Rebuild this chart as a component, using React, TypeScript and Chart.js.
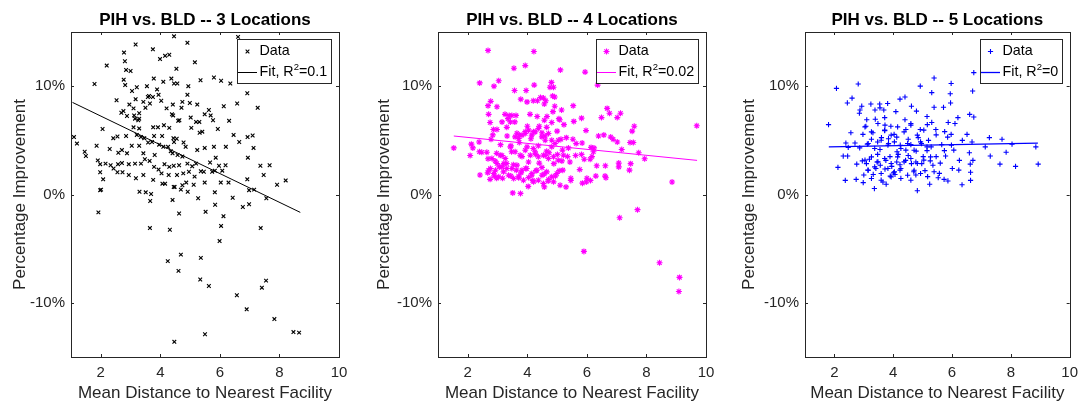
import React, { useEffect, useRef } from 'react';
import { Chart, registerables } from 'chart.js';

Chart.register(...registerables);

// ---------- data ----------
const xTickValues = [2, 4, 6, 8, 10];
const yTickValues = [-10, 0, 10];
const xLimits = [1, 10];
const yLimits = [-15, 15];

const panelTitles = ['PIH vs. BLD -- 3 Locations', 'PIH vs. BLD -- 4 Locations', 'PIH vs. BLD -- 5 Locations'];
const xAxisLabel = 'Mean Distance to Nearest Facility';
const yAxisLabel = 'Percentage Improvement';
const dataLabel = 'Data';
const fitLabels = ['Fit, R²=0.1', 'Fit, R²=0.02', 'Fit, R²=0'];

// [mean distance, percentage improvement]
const loc3Points: [number, number][] = [
  [4.46, 14.6], [6.61, 14.55], [4.91, 14.0], [3.17, 13.85], [2.78, 13.1], [3.75, 13.4], [2.81, 12.3], [4.3, 12.9],
  [4.16, 12.8], [3.99, 12.5], [5.16, 12.2], [2.2, 11.9], [2.85, 11.5], [3.0, 11.4], [4.54, 11.6], [2.77, 10.6],
  [3.78, 10.7], [4.37, 10.7], [5.35, 10.55], [5.8, 10.8], [6.04, 10.5], [6.35, 10.25], [1.79, 10.2], [2.82, 10.1],
  [3.21, 9.9], [3.55, 10.0], [4.1, 10.4], [4.46, 10.25], [4.57, 10.25], [4.94, 10.0], [3.05, 9.55], [3.89, 9.7],
  [3.62, 9.1], [3.58, 9.0], [4.91, 9.2], [6.92, 9.35], [2.53, 8.7], [3.17, 8.8], [3.94, 9.2], [4.03, 8.65],
  [3.75, 9.0], [3.43, 8.55], [3.65, 8.4], [2.96, 8.3], [4.42, 8.3], [4.74, 8.55], [4.99, 8.45], [5.24, 8.3],
  [6.58, 8.4], [7.27, 8.0], [6.13, 8.15], [3.1, 7.95], [3.5, 8.0], [4.21, 7.95], [4.71, 8.0], [2.69, 7.55],
  [2.76, 7.7], [2.88, 7.25], [3.12, 7.3], [3.29, 7.5], [4.39, 7.4], [4.43, 7.3], [5.49, 7.4], [5.63, 7.8],
  [5.69, 7.3], [5.77, 6.85], [3.15, 7.0], [3.26, 6.85], [3.29, 7.0], [3.76, 6.2], [3.92, 6.2], [4.12, 6.4],
  [4.3, 6.15], [4.6, 6.8], [4.64, 6.85], [5.02, 7.1], [5.04, 6.15], [5.2, 6.7], [5.31, 6.7], [6.31, 6.8],
  [2.06, 6.05], [3.1, 6.2], [3.29, 6.1], [5.93, 6.05], [2.56, 5.35], [2.42, 5.2], [2.85, 5.4], [3.21, 5.5],
  [3.35, 5.3], [3.46, 5.2], [3.79, 5.4], [4.06, 5.4], [4.44, 5.2], [4.55, 5.15], [5.32, 5.7], [5.41, 5.8],
  [6.46, 5.5], [6.93, 5.3], [7.1, 5.45], [1.1, 5.3], [1.2, 4.7], [1.86, 4.5], [1.46, 3.95], [1.5, 3.55],
  [2.3, 4.2], [2.71, 4.1], [3.04, 4.5], [3.29, 4.5], [3.59, 4.8], [3.72, 4.85], [3.96, 4.6], [4.1, 4.4],
  [4.26, 4.4], [4.46, 4.85], [4.78, 4.8], [4.85, 4.4], [5.49, 4.3], [5.8, 4.4], [6.2, 4.4], [6.65, 4.85],
  [7.13, 4.3], [2.59, 3.85], [2.88, 3.8], [3.43, 3.8], [3.81, 3.65], [4.35, 4.0], [4.41, 3.8], [4.58, 3.65],
  [4.74, 3.5], [5.24, 4.1], [5.86, 3.4], [6.94, 3.4], [1.9, 3.15], [1.98, 2.8], [2.16, 2.85], [2.33, 2.7],
  [2.58, 2.8], [2.71, 2.9], [2.94, 2.8], [3.15, 2.85], [3.35, 2.85], [3.48, 3.25], [3.64, 3.1], [3.79, 2.55],
  [3.94, 2.3], [4.14, 2.8], [4.3, 2.55], [4.45, 2.65], [4.63, 2.7], [4.91, 2.85], [5.07, 2.6], [5.2, 2.85],
  [5.36, 2.15], [5.67, 2.95], [5.97, 2.65], [6.19, 2.7], [6.08, 2.2], [5.74, 2.1], [7.36, 2.65], [7.67, 2.7],
  [7.47, 1.8], [2.43, 2.4], [2.56, 2.05], [2.73, 2.05], [2.94, 1.8], [3.18, 1.5], [3.43, 1.8], [3.76, 1.35],
  [4.04, 1.95], [4.28, 1.8], [4.56, 1.8], [4.77, 1.95], [4.96, 2.1], [5.15, 1.65], [5.46, 2.1], [5.83, 2.2],
  [6.03, 1.1], [6.29, 1.1], [6.92, 1.4], [1.98, 2.05], [2.08, 1.4], [1.98, 0.4], [2.01, 0.45], [4.07, 1.0],
  [4.16, 1.0], [4.45, 0.7], [4.48, 0.7], [4.74, 0.85], [4.87, 1.1], [4.69, 0.45], [4.92, 0.25], [5.12, 0.9],
  [5.49, 1.1], [6.98, 0.4], [7.15, 0.45], [7.92, 0.9], [8.21, 1.3], [3.3, 0.25], [3.51, 0.2], [3.69, 0.05],
  [5.83, 0.2], [7.56, -0.35], [3.66, -0.6], [4.41, -0.5], [5.27, -0.35], [6.43, -0.3], [5.52, -1.6], [5.84, -0.95],
  [4.63, -1.75], [6.12, -2.0], [6.77, -1.15], [6.98, -0.9], [1.92, -1.65], [3.65, -3.1], [4.32, -3.25], [6.04, -2.9],
  [7.37, -3.1], [5.99, -4.3], [4.25, -6.15], [4.69, -5.55], [5.36, -5.85], [4.61, -7.05], [5.34, -7.85], [5.63, -8.45],
  [7.41, -8.6], [7.55, -7.95], [6.57, -9.3], [6.9, -10.6], [7.83, -11.5], [8.47, -12.7], [8.66, -12.75], [5.5, -12.9],
  [4.47, -13.6],
];

const loc4Points: [number, number][] = [
  [2.68, 13.3], [4.22, 13.2], [3.93, 11.9], [3.55, 11.65], [5.11, 11.5], [5.94, 11.3], [2.4, 10.3], [3.04, 10.5],
  [2.88, 10.0], [3.96, 9.6], [3.57, 9.6], [4.23, 10.1], [4.81, 10.35], [4.76, 9.9], [4.88, 9.9], [6.36, 10.1],
  [3.78, 8.8], [3.99, 8.55], [4.2, 8.65], [4.34, 8.65], [4.44, 8.95], [4.54, 8.9], [4.62, 8.65], [4.85, 9.1],
  [4.92, 9.0], [2.77, 8.6], [2.68, 8.2], [2.98, 8.1], [4.57, 8.35], [4.92, 8.15], [5.54, 8.2], [5.15, 7.8],
  [4.86, 7.65], [6.68, 7.95], [6.76, 7.5], [7.13, 7.5], [7.02, 7.1], [2.7, 7.4], [3.25, 7.4], [3.39, 7.3],
  [3.62, 7.3], [4.09, 7.4], [3.35, 7.0], [3.48, 7.3], [4.33, 7.2], [4.57, 6.85], [4.66, 7.2], [4.82, 6.65],
  [5.06, 7.0], [5.09, 6.9], [5.56, 6.75], [5.82, 7.05], [6.49, 7.1], [2.75, 6.65], [3.15, 6.7], [3.58, 6.7],
  [4.0, 6.3], [4.4, 6.3], [4.65, 6.2], [5.23, 6.45], [5.97, 5.9], [7.59, 6.3], [9.69, 6.35], [2.86, 6.0],
  [2.98, 6.0], [3.31, 6.2], [3.93, 5.8], [3.65, 5.65], [4.21, 5.8], [4.49, 5.7], [5.0, 5.85], [7.52, 5.85],
  [2.84, 5.5], [3.32, 5.4], [3.73, 5.5], [4.12, 5.15], [4.6, 5.4], [5.13, 5.1], [5.31, 5.25], [5.53, 5.1],
  [6.39, 5.4], [6.57, 5.5], [6.8, 5.3], [6.88, 5.1], [7.02, 4.85], [7.45, 4.8], [7.56, 4.8], [2.78, 5.1],
  [2.38, 4.85], [2.12, 4.65], [2.17, 4.3], [1.53, 4.3], [2.39, 3.95], [2.47, 3.9], [2.08, 3.6], [2.64, 3.9],
  [3.1, 4.6], [3.45, 4.5], [3.73, 4.8], [3.99, 4.4], [4.2, 4.25], [4.37, 4.5], [4.65, 4.0], [4.82, 4.4],
  [5.18, 4.1], [5.38, 4.3], [5.64, 4.7], [5.84, 4.75], [6.14, 4.35], [6.24, 4.3], [7.17, 4.15], [7.74, 3.85],
  [7.94, 3.3], [6.22, 3.95], [5.82, 3.7], [5.62, 3.6], [2.97, 3.8], [3.15, 3.6], [3.47, 3.95], [3.82, 3.5],
  [4.28, 3.7], [4.6, 3.6], [4.73, 3.85], [5.01, 3.7], [5.35, 3.5], [5.91, 3.25], [6.11, 3.25], [6.17, 3.5],
  [7.07, 2.9], [7.47, 2.85], [2.68, 3.3], [2.92, 3.1], [3.21, 2.85], [3.53, 2.75], [4.04, 3.0], [4.4, 2.9],
  [4.89, 2.85], [5.16, 3.1], [5.43, 3.0], [6.33, 2.65], [6.62, 2.65], [7.07, 2.55], [2.76, 2.4], [3.06, 2.55],
  [3.31, 2.4], [3.63, 2.25], [3.94, 2.4], [4.29, 2.2], [4.49, 2.5], [5.07, 2.2], [5.19, 2.25], [5.76, 2.3],
  [7.43, 2.25], [2.41, 1.8], [2.67, 2.0], [2.89, 1.7], [3.17, 1.5], [3.45, 1.7], [3.79, 2.0], [4.15, 1.8],
  [4.57, 1.9], [4.94, 1.7], [5.46, 1.5], [6.0, 1.5], [6.3, 1.7], [6.61, 1.7], [6.64, 1.55], [2.75, 1.4],
  [2.97, 1.5], [3.71, 1.55], [4.18, 1.3], [4.7, 1.25], [5.46, 1.3], [5.98, 1.15], [5.85, 1.05], [6.12, 1.3],
  [8.86, 1.15], [4.03, 0.75], [4.57, 0.7], [5.1, 0.85], [5.3, 0.7], [3.51, 0.15], [3.77, 0.1], [7.7, -1.4],
  [7.1, -2.15], [5.9, -5.25], [8.44, -6.3], [9.11, -7.65], [9.09, -8.95],
  [3.43, 6.7], [3.59, 5.32], [3.71, 5.17], [3.82, 5.48], [3.93, 5.63], [4.04, 5.94], [4.15, 5.48], [4.26, 5.78],
  [4.37, 6.09], [4.49, 5.32], [4.6, 5.01], [4.71, 5.63], [4.82, 5.01], [4.93, 4.71], [5.04, 5.01], [3.43, 4.4],
  [3.59, 3.94], [3.76, 3.63], [3.93, 4.09], [4.1, 3.63], [4.26, 3.94], [4.37, 3.48], [4.54, 3.63], [4.71, 3.32],
  [4.88, 3.48], [5.04, 3.17], [5.21, 3.63], [2.81, 3.32], [2.98, 2.86], [3.15, 2.55], [3.31, 2.86], [3.48, 2.4],
  [3.65, 2.71], [3.82, 2.24], [3.98, 2.4], [4.15, 1.94], [4.32, 2.24], [4.49, 1.78], [4.65, 2.09], [4.82, 1.63],
  [4.99, 1.94], [2.87, 1.94], [3.04, 1.63], [3.2, 2.09], [3.37, 1.78], [3.54, 1.48], [3.71, 1.69], [3.87, 1.32],
  [4.04, 1.57], [4.21, 1.17], [4.37, 1.32], [4.54, 1.01], [4.71, 1.38], [4.88, 1.17], [2.7, 2.24], [2.93, 2.24],
  [3.09, 3.63], [3.26, 3.32],
];

const loc5Points: [number, number][] = [
  [6.74, 11.25], [5.39, 10.75], [2.81, 10.2], [5.97, 10.25], [4.92, 10.0], [2.07, 9.8], [6.7, 9.55], [5.31, 9.4],
  [5.94, 9.3], [4.4, 9.0], [4.23, 8.8], [2.6, 8.9], [2.44, 8.45], [5.95, 8.45], [3.24, 8.35], [3.54, 8.35],
  [3.81, 8.4], [2.93, 8.15], [3.55, 8.0], [4.62, 8.15], [5.39, 8.05], [5.71, 8.05], [2.87, 7.8], [2.85, 7.5],
  [3.38, 7.8], [3.68, 7.8], [4.09, 7.65], [4.79, 7.7], [6.6, 7.4], [6.74, 7.15], [6.2, 7.1], [5.15, 7.2],
  [3.1, 6.9], [3.39, 6.95], [3.71, 7.1], [4.4, 6.9], [3.07, 6.3], [3.72, 6.4], [3.92, 6.3], [4.6, 6.55],
  [5.16, 6.45], [5.31, 6.65], [5.87, 6.65], [6.1, 6.55], [1.8, 6.45], [2.56, 5.7], [2.97, 5.55], [3.31, 5.7],
  [3.71, 5.9], [4.03, 5.55], [4.43, 6.0], [4.92, 6.0], [5.45, 6.0], [5.46, 5.5], [5.75, 5.8], [5.97, 5.55],
  [6.51, 5.55], [3.26, 5.1], [3.6, 5.25], [3.84, 5.15], [4.12, 5.3], [4.51, 5.1], [4.85, 5.25], [5.2, 5.0],
  [5.85, 5.3], [6.35, 5.0], [7.27, 5.25], [7.7, 5.1], [2.39, 4.75], [2.7, 4.75], [3.12, 4.65], [3.47, 4.85],
  [3.84, 4.7], [4.24, 4.55], [4.6, 4.6], [4.96, 4.7], [5.29, 4.4], [5.65, 4.6], [5.98, 4.55], [6.68, 4.85],
  [7.13, 4.4], [8.04, 4.65], [8.85, 4.4], [2.47, 4.35], [2.86, 4.3], [3.55, 4.15], [4.13, 3.95], [4.43, 4.1],
  [4.78, 4.0], [5.15, 4.05], [5.74, 4.05], [6.06, 4.1], [7.84, 3.9], [2.3, 3.55], [2.45, 3.55], [3.47, 3.7],
  [3.89, 3.5], [4.17, 3.7], [4.51, 3.6], [5.02, 3.5], [5.46, 3.5], [5.78, 3.55], [6.59, 3.85], [7.3, 3.55],
  [2.95, 3.1], [3.19, 3.25], [3.45, 3.0], [3.75, 3.15], [4.12, 3.0], [4.42, 3.15], [4.77, 3.0], [5.26, 3.1],
  [5.6, 2.9], [6.25, 3.15], [6.71, 3.15], [2.76, 2.8], [3.09, 2.85], [3.56, 2.7], [3.95, 2.6], [4.23, 2.75],
  [4.62, 2.85], [4.97, 2.85], [5.35, 2.7], [7.63, 2.8], [8.16, 2.6], [8.93, 2.8], [6.62, 2.8], [2.12, 2.5],
  [3.14, 2.25], [3.41, 2.4], [3.72, 2.35], [4.01, 2.0], [4.23, 2.25], [4.7, 2.1], [5.08, 2.2], [5.39, 2.1],
  [5.57, 1.95], [6.01, 2.4], [6.23, 2.25], [6.63, 2.05], [3.0, 1.8], [3.32, 1.85], [3.9, 1.7], [4.06, 1.85],
  [4.77, 1.8], [5.17, 1.65], [5.53, 1.55], [5.73, 1.4], [5.86, 1.25], [2.37, 1.3], [2.98, 1.1], [3.65, 1.15],
  [3.76, 0.95], [5.24, 0.95], [6.63, 1.3], [6.34, 0.9], [3.36, 0.55], [4.82, 0.35], [2.74, 1.4],
  [3.04, 6.24], [3.26, 5.78], [3.48, 6.55], [3.71, 5.94], [3.93, 5.48], [4.15, 6.24], [4.37, 5.78], [4.6, 6.4],
  [4.82, 5.48], [5.04, 5.94], [3.15, 4.71], [3.37, 4.25], [3.59, 5.01], [3.82, 4.55], [4.04, 4.86], [4.26, 4.25],
  [4.49, 4.71], [4.71, 4.09], [4.93, 4.86], [5.15, 4.4], [3.04, 3.17], [3.26, 3.47], [3.48, 3.01], [3.71, 3.32],
  [3.93, 2.86], [4.15, 3.47], [4.37, 3.01], [4.6, 3.32], [4.82, 2.86], [5.04, 3.17], [5.27, 3.47], [3.15, 2.24],
  [3.37, 2.55], [3.59, 1.94], [3.82, 2.4], [4.04, 2.09], [4.26, 2.4], [4.49, 1.78], [4.71, 2.24], [4.93, 1.94],
  [3.26, 1.48], [3.59, 1.32], [3.93, 1.63], [4.26, 1.48], [4.6, 1.32],
];

// fitted lines: end points [x, y]
const loc3Fit: [number, number][] = [[1.05, 8.5], [8.7, -1.65]];
const loc4Fit: [number, number][] = [[1.53, 5.4], [9.7, 3.15]];
const loc5Fit: [number, number][] = [[1.81, 4.4], [8.92, 4.75]];

// ---------- styling ----------
const FONT = '"Liberation Sans", Arial, Helvetica, sans-serif';
const AXIS_COLOR = '#262626';

type PanelCfg = {
  left: number;
  width: number;
  yAxisWidth: number;
  padRight: number;
  yTitlePad: number;
  color: string;
  pointStyle: string;
  radius: number;
  pointLineWidth: number;
  fitWidth: number;
  points: [number, number][];
  fit: [number, number][];
  title: string;
  fitLabel: string;
};

const panels: PanelCfg[] = [
  { left: 0, width: 362, yAxisWidth: 71, padRight: 23, yTitlePad: 10, color: '#000000', pointStyle: 'crossRot', radius: 2.6, pointLineWidth: 1.1, fitWidth: 1, points: loc3Points, fit: loc3Fit, title: panelTitles[0], fitLabel: fitLabels[0] },
  { left: 362, width: 362, yAxisWidth: 76, padRight: 18, yTitlePad: 12.2, color: '#FF00FF', pointStyle: 'star', radius: 3, pointLineWidth: 1.1, fitWidth: 1, points: loc4Points, fit: loc4Fit, title: panelTitles[1], fitLabel: fitLabels[1] },
  { left: 724, width: 361, yAxisWidth: 81, padRight: 12, yTitlePad: 15.5, color: '#0000FF', pointStyle: 'cross', radius: 2.6, pointLineWidth: 1.1, fitWidth: 1.3, points: loc5Points, fit: loc5Fit, title: panelTitles[2], fitLabel: fitLabels[2] },
];

function drawMarker(ctx: CanvasRenderingContext2D, style: string, x: number, y: number, r: number) {
  ctx.beginPath();
  const o = r * Math.SQRT1_2;
  if (style === 'cross' || style === 'star') {
    ctx.moveTo(x - r, y); ctx.lineTo(x + r, y);
    ctx.moveTo(x, y - r); ctx.lineTo(x, y + r);
  }
  if (style === 'crossRot' || style === 'star') {
    ctx.moveTo(x - o, y - o); ctx.lineTo(x + o, y + o);
    ctx.moveTo(x - o, y + o); ctx.lineTo(x + o, y - o);
  }
  ctx.stroke();
}

const matlabAxes = {
  id: 'matlabAxes',
  afterDatasetsDraw(chart: any) {
    const { ctx, chartArea, scales } = chart;
    const { left, right, top, bottom } = chartArea;
    ctx.save();
    ctx.strokeStyle = AXIS_COLOR;
    ctx.lineWidth = 1;
    ctx.strokeRect(Math.round(left) + 0.5, Math.round(top) + 0.5, Math.round(right - left), Math.round(bottom - top));
    const tl = 3;
    ctx.beginPath();
    scales.x.ticks.forEach((t: any) => {
      const px = Math.round(scales.x.getPixelForValue(t.value)) + 0.5;
      ctx.moveTo(px, bottom); ctx.lineTo(px, bottom - tl);
      ctx.moveTo(px, top); ctx.lineTo(px, top + tl);
    });
    scales.y.ticks.forEach((t: any) => {
      const py = Math.round(scales.y.getPixelForValue(t.value)) + 0.5;
      ctx.moveTo(left, py); ctx.lineTo(left + tl, py);
      ctx.moveTo(right, py); ctx.lineTo(right - tl, py);
    });
    ctx.stroke();
    ctx.restore();
  },
};

const boxLegend = {
  id: 'boxLegend',
  afterDraw(chart: any) {
    const { ctx, chartArea } = chart;
    const ds = chart.data.datasets;
    const mainFont = `14.3px ${FONT}`;
    const supFont = `9.5px ${FONT}`;
    ctx.save();
    const measure = (label: string) => {
      const parts = label.split('²');
      ctx.font = mainFont;
      let w = ctx.measureText(parts[0]).width;
      if (parts.length > 1) {
        w += ctx.measureText(parts[1]).width;
        ctx.font = supFont;
        w += ctx.measureText('2').width;
      }
      return w;
    };
    const textW = Math.max(measure(ds[0].label), measure(ds[1].label));
    const lineLen = 19;
    const gap = 2.5;
    const padR = 4;
    const w = Math.round(1 + lineLen + gap + textW + padR);
    const h = 44;
    const right = Math.round(chartArea.right) - 8;
    const top = Math.round(chartArea.top) + 7;
    const left = right - w;
    ctx.fillStyle = '#ffffff';
    ctx.fillRect(left, top, w, h);
    ctx.strokeStyle = AXIS_COLOR;
    ctx.lineWidth = 1;
    ctx.strokeRect(left + 0.5, top + 0.5, w, h);

    const textX = left + 1 + lineLen + gap;
    const drawLabel = (label: string, y: number) => {
      const parts = label.split('²');
      ctx.fillStyle = '#000000';
      ctx.textBaseline = 'middle';
      ctx.textAlign = 'left';
      ctx.font = mainFont;
      let x = textX;
      ctx.fillText(parts[0], x, y);
      x += ctx.measureText(parts[0]).width;
      if (parts.length > 1) {
        ctx.font = supFont;
        ctx.fillText('2', x, y - 4.5);
        x += ctx.measureText('2').width;
        ctx.font = mainFont;
        ctx.fillText(parts[1], x, y);
      }
    };

    const y1 = top + 12.5;
    const y2 = top + 33;
    ctx.strokeStyle = ds[0].pointBorderColor;
    ctx.lineWidth = ds[0].pointBorderWidth;
    drawMarker(ctx, ds[0].pointStyle, left + 1 + lineLen / 2, y1, ds[0].pointRadius);
    drawLabel(ds[0].label, y1);

    ctx.strokeStyle = ds[1].borderColor;
    ctx.lineWidth = ds[1].borderWidth;
    ctx.beginPath();
    ctx.moveTo(left + 1, Math.round(y2) + 0.5);
    ctx.lineTo(left + 1 + lineLen, Math.round(y2) + 0.5);
    ctx.stroke();
    drawLabel(ds[1].label, y2);
    ctx.restore();
  },
};

function Panel({ cfg }: { cfg: PanelCfg }) {
  const ref = useRef<HTMLCanvasElement | null>(null);
  useEffect(() => {
    if (!ref.current) return;
    const chart = new Chart(ref.current, {
      type: 'scatter',
      data: {
        datasets: [
          {
            label: dataLabel,
            data: cfg.points.map(([x, y]) => ({ x, y })),
            pointStyle: cfg.pointStyle as any,
            pointRadius: cfg.radius,
            pointBorderColor: cfg.color,
            pointBackgroundColor: cfg.color,
            pointBorderWidth: cfg.pointLineWidth,
            pointHoverRadius: cfg.radius,
            showLine: false,
            order: 1,
          } as any,
          {
            label: cfg.fitLabel,
            data: cfg.fit.map(([x, y]) => ({ x, y })),
            showLine: true,
            borderColor: cfg.color,
            borderWidth: cfg.fitWidth,
            pointRadius: 0,
            fill: false,
            order: 0,
          } as any,
        ],
      },
      options: {
        animation: false,
        responsive: false,
        events: [],
        layout: { padding: { left: 0, right: cfg.padRight, top: 0, bottom: 0 } },
        plugins: {
          legend: { display: false },
          tooltip: { enabled: false },
          title: {
            display: true,
            text: cfg.title,
            fullSize: false,
            color: '#000000',
            font: { family: FONT, size: 17, weight: 'bold' },
            padding: { top: 10, bottom: 1.6 },
          },
        },
        scales: {
          x: {
            type: 'linear',
            min: xLimits[0],
            max: xLimits[1],
            afterBuildTicks: (s: any) => { s.ticks = xTickValues.map((v) => ({ value: v })); },
            afterFit: (s: any) => { s.height = 47; },
            grid: { display: false, drawTicks: false },
            border: { display: false },
            ticks: { color: AXIS_COLOR, font: { family: FONT, size: 15 }, padding: 7, maxRotation: 0, autoSkip: false },
            title: { display: true, text: xAxisLabel, color: AXIS_COLOR, font: { family: FONT, size: 17 }, padding: { top: 0, bottom: 0 } },
          },
          y: {
            type: 'linear',
            min: yLimits[0],
            max: yLimits[1],
            afterBuildTicks: (s: any) => { s.ticks = yTickValues.map((v) => ({ value: v })); },
            afterFit: (s: any) => { s.width = cfg.yAxisWidth; },
            grid: { display: false, drawTicks: false },
            border: { display: false },
            ticks: { color: AXIS_COLOR, font: { family: FONT, size: 15 }, padding: 6, callback: (v: any) => `${v}%` },
            title: { display: true, text: yAxisLabel, color: AXIS_COLOR, font: { family: FONT, size: 17 }, padding: { top: cfg.yTitlePad, bottom: 0 } },
          },
        },
      } as any,
      plugins: [matlabAxes, boxLegend],
    });
    return () => chart.destroy();
  }, [cfg]);
  return (
    <canvas
      ref={ref}
      width={cfg.width}
      height={404}
      style={{ position: 'absolute', left: cfg.left, top: 0, width: cfg.width, height: 404 }}
    />
  );
}

export default function App() {
  return (
    <div style={{ position: 'absolute', left: 0, top: 0, width: 1085, height: 404, background: '#ffffff' }}>
      {panels.map((p, i) => (
        <Panel key={i} cfg={p} />
      ))}
    </div>
  );
}
